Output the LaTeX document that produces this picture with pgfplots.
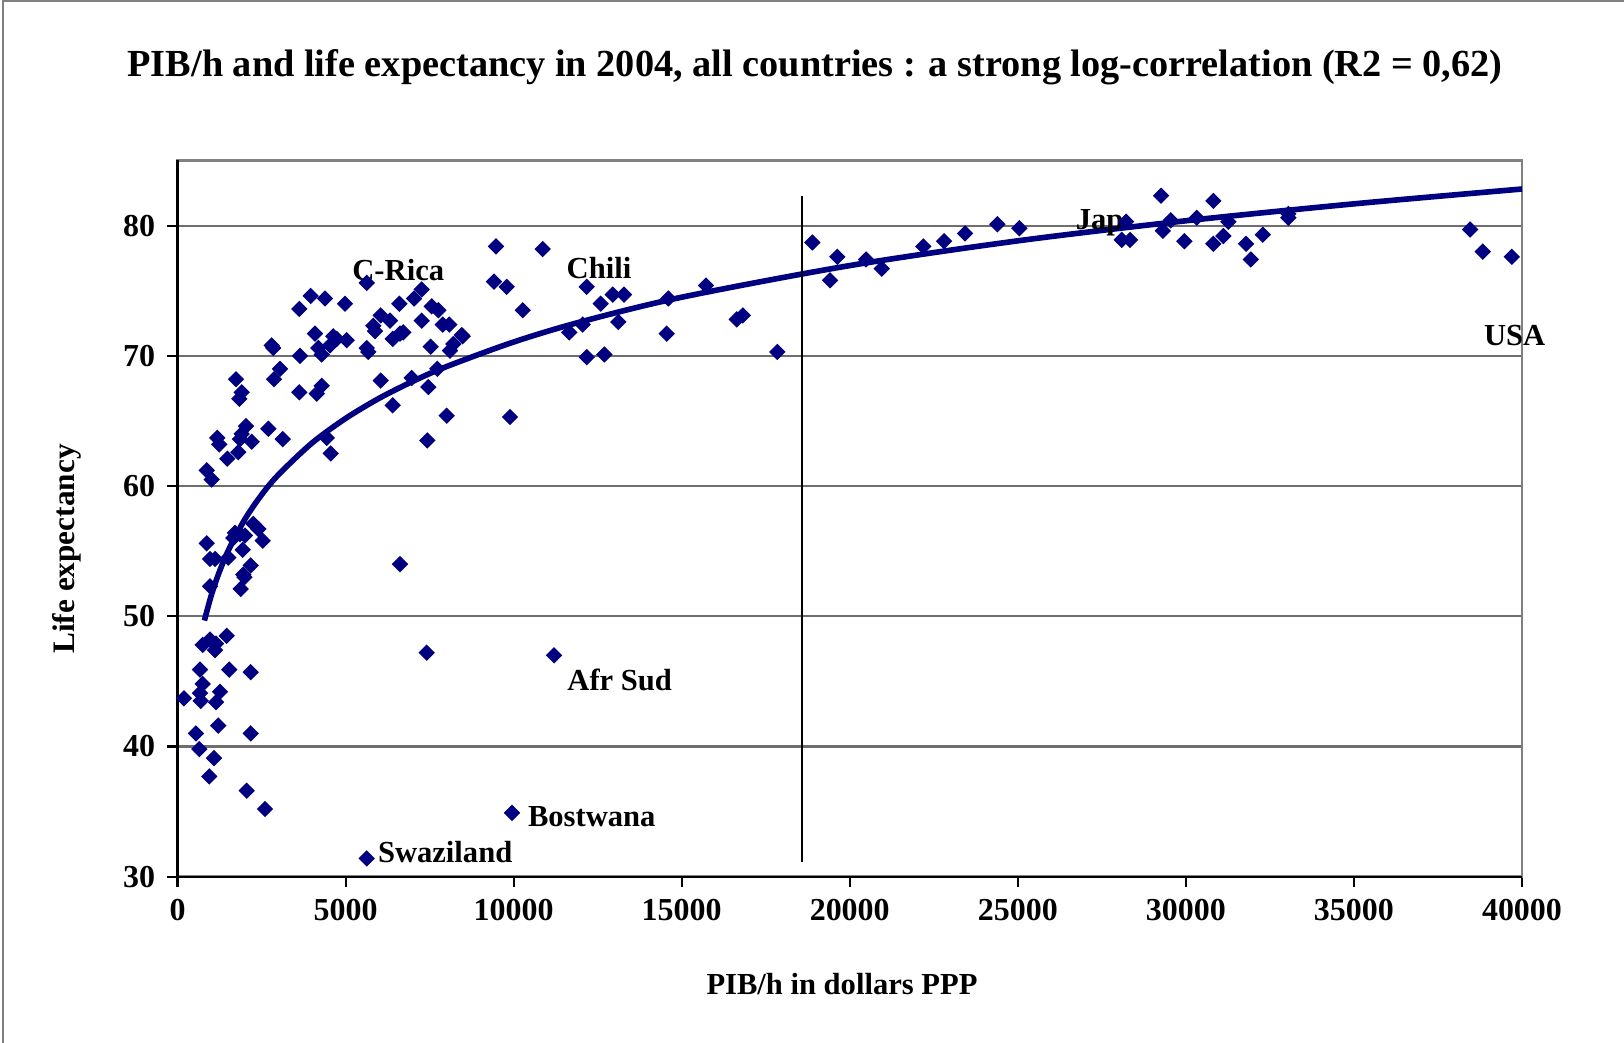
\documentclass[border=0pt]{standalone}
\usepackage{fontspec}
\setmainfont{Liberation Serif}
\usepackage{pgfplots}
\pgfplotsset{compat=1.18}
\definecolor{navy}{HTML}{000080}
\definecolor{framegray}{HTML}{808080}
\definecolor{gridgray}{HTML}{6E6E6E}
\begin{document}
\begin{tikzpicture}
\path[use as bounding box] (-1.775,-1.663) rectangle (14.465,8.767);
\draw[framegray,line width=0.8pt] (-1.745,-1.663) -- (-1.745,8.757) -- (14.465,8.757);
\begin{axis}[
  at={(0,0)}, anchor=south west,
  scale only axis, width=13.445cm, height=7.162cm,
  xmin=0, xmax=40000, ymin=30, ymax=85,
  xtick={0,5000,...,40000}, ytick={30,40,...,80},
  scaled ticks=false,
  /pgf/number format/1000 sep={},
  /pgf/number format/assume math mode=true,
  tick label style={font=\fontsize{9.1}{11}\selectfont\bfseries},
  tick align=outside, major tick length=0.1cm,
  xtick pos=bottom, ytick pos=left,
  tick style={black, line width=0.6pt},
  ymajorgrids, grid style={gridgray, line width=0.6pt},
  axis line style={framegray, line width=0.85pt},
  clip=false,
]
\addplot[only marks, mark=square*, mark size=1.45pt, mark options={rotate=45, fill=navy, draw=navy}, color=navy] coordinates {
(193,43.7)(550,41.0)(649,39.8)(946,37.7)(1086,39.1)(1214,41.6)(2059,36.6)(2603,35.2)
(2178,41.0)(2178,45.7)(669,45.9)(1541,45.9)(749,44.8)(669,44.1)(690,43.5)(1264,44.2)
(1146,43.4)(749,47.8)(967,48.2)(1146,47.9)(1116,47.4)(1464,48.5)
(869,55.6)(967,54.4)(1116,54.4)(967,52.3)(1512,54.5)(1661,56.0)(1711,56.4)(1860,56.3)
(2008,56.2)(2256,57.1)(2405,56.7)(2535,55.8)(1940,55.1)(2178,53.9)(1958,53.2)(1990,53.0)
(1880,52.1)(6620,54.0)(7414,47.2)(11202,47.0)(9952,34.9)(5629,31.4)
(869,61.2)(1018,60.5)(1482,62.1)(1809,62.6)(1184,63.7)(1244,63.2)(1860,63.6)(2038,64.6)
(2208,63.4)(1910,64.0)(1741,68.2)(1910,67.2)(1839,66.7)(2702,64.4)(3130,63.6)(2871,68.2)
(3050,69.0)(2802,70.8)(2850,70.6)(3645,70.0)(3624,67.2)(4142,67.1)(4290,67.7)(4439,63.7)
(4558,62.5)
(3624,73.6)(3963,74.6)(4389,74.4)(4984,74.0)(4091,71.7)(4190,70.6)(4290,70.1)(4636,71.5)
(4737,71.3)(4537,70.8)(5034,71.2)(5629,75.6)(6046,73.1)(6323,72.7)(5826,72.3)(5876,71.9)
(5629,70.6)(5677,70.3)(6403,71.3)(6620,71.7)(6718,71.8)(6600,74.0)(7037,74.4)(7265,75.1)
(7265,72.7)(7563,73.8)(7760,73.5)(7891,72.4)(8087,72.4)(7533,70.7)(8108,70.4)(8206,70.9)
(8486,71.5)(6046,68.1)(6968,68.3)(7730,69.0)(7463,67.6)(6403,66.2)(8009,65.4)(7433,63.5)
(9476,78.4)(10866,78.2)(9417,75.7)(9795,75.3)(10271,73.5)(8456,71.6)(9893,65.3)
(12175,75.3)(12948,74.7)(13285,74.7)(12591,74.0)(12056,72.4)(11657,71.8)(13115,72.6)
(12175,69.9)(12699,70.1)(14603,74.4)(15724,75.4)(14555,71.7)(16638,72.8)(16817,73.1)
(17846,70.3)(18887,78.7)(19631,77.6)(19414,75.8)(20485,77.4)(20952,76.7)(22190,78.4)
(22806,78.8)(23431,79.4)(24392,80.1)(25047,79.8)(28221,80.3)(28093,78.9)(28340,78.9)
(29262,82.3)(29313,79.6)(29551,80.4)(29955,78.8)(30324,80.6)(30818,81.9)(30818,78.6)
(31116,79.2)(31265,80.3)(31791,78.6)(31931,77.4)(32288,79.3)(33050,80.9)(33050,80.6)
(38456,79.7)(38834,78.0)(39697,77.6)
};
% logarithmic trend line
\addplot[navy, line width=1.6pt, smooth] coordinates {
(800,49.67)(1000,51.56)(1200,53.10)(1500,54.99)(2000,57.43)(2500,59.32)(3000,60.86)
(4000,63.30)(5000,65.19)(6000,66.74)(7000,68.04)(8000,69.17)(10000,71.06)(12000,72.61)
(15000,74.50)(20000,76.93)(25000,78.83)(30000,80.37)(35000,81.67)(40000,82.81)
};
% vertical reference line
\addplot[black, line width=0.6pt] coordinates {(18580,31.1)(18580,82.3)};
\draw[black, line width=0.6pt] (rel axis cs:0,1) -- (rel axis cs:0,0) -- (rel axis cs:1,0);
\begin{scope}[every node/.style={font=\fontsize{8.7}{11}\selectfont\bfseries, inner sep=0pt}]
\node[anchor=base west] at (axis cs:5183,75.77) {C-Rica};
\node[anchor=base west] at (axis cs:11559,75.9) {Chili};
\node[anchor=base west] at (axis cs:26703,79.7) {Jap};
\node[anchor=base west] at (axis cs:38851,70.8) {USA};
\node[anchor=base west] at (axis cs:11580,44.3) {Afr Sud};
\node[anchor=base west] at (axis cs:10408,33.85) {Bostwana};
\node[anchor=base west] at (axis cs:5945,31.1) {Swaziland};
\end{scope}
\end{axis}
\node[anchor=base, font=\fontsize{10.9}{13}\selectfont\bfseries, inner sep=0pt] at (6.375,7.997) {PIB/h and life expectancy in 2004, all countries : a strong log-correlation (R2 = 0,62)};
\node[anchor=base, font=\fontsize{8.7}{11}\selectfont\bfseries, inner sep=0pt] at (6.645,-1.183) {PIB/h in dollars PPP};
\node[rotate=90, font=\fontsize{8.9}{11}\selectfont\bfseries, inner sep=0pt] at (-1.105,3.277) {Life expectancy};
\end{tikzpicture}
\end{document}
